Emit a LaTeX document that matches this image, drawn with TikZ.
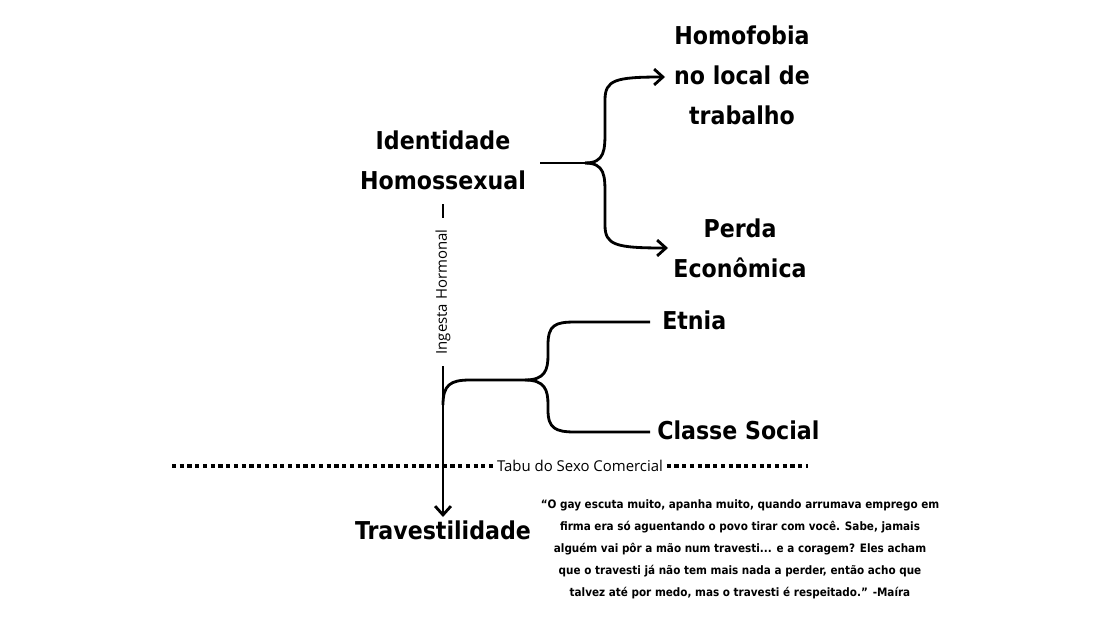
\documentclass[tikz,border=0pt]{standalone}
\usepackage{fontspec}
\setmainfont{DejaVu Sans Condensed}
\newfontfamily\thinfont{Open Sans}
\usetikzlibrary{arrows.meta}
\begin{document}
\begin{tikzpicture}[x=0.02cm, y=-0.02cm, line width=1.6pt,
  title/.style={font=\bfseries\fontsize{14}{22.7}\selectfont, align=center},
  small/.style={font=\thinfont\fontsize{8.5}{10}\selectfont, fill=white, inner sep=2pt},
  quote/.style={font=\bfseries\fontsize{6.6}{12.5}\selectfont, align=center},
  arr/.style={-{Straight Barb[length=5pt, width=9pt]}}]

  \useasboundingbox (0,0) rectangle (1114,626);

  % titles
  \node [title] (ident) at (443,160) {Identidade\\Homossexual};
  \node [title] (homo)  at (742,75)  {Homofobia\\no local de\\trabalho};
  \node [title] (perda) at (740,248) {Perda\\Econômica};
  \node [title, anchor=west] (etnia)  at (655,320) {Etnia};
  \node [title, anchor=west] (classe) at (650,430) {Classe Social};
  \node [title] (trav) at (443,530) {Travestilidade};

  % upper bracket
  \coordinate (fork) at (585,163);
  \draw (540,163) -- (fork);
  \draw [arr] (fork) .. controls (605,163) and (605,150) .. (605,130) -- (605,100)
        .. controls (605,80) and (615,77) .. (665,77);
  \draw [arr] (fork) .. controls (605,163) and (605,176) .. (605,195) -- (605,225)
        .. controls (605,245) and (615,248) .. (668,248);

  % hormonal line
  \draw (443,204) -- (443,218);
  \node [small, rotate=90] (ingesta) at (443,292) {Ingesta Hormonal};
  \draw [arr] (443,366) -- (443,517);

  % lower bracket
  \draw (443,405) .. controls (443,385) and (450,380) .. (470,380) -- (525,380)
        .. controls (545,380) and (548,370) .. (548,355) -- (548,345)
        .. controls (548,325) and (555,322) .. (575,322) -- (650,322);
  \draw (525,380) .. controls (545,380) and (548,390) .. (548,405) -- (548,410)
        .. controls (548,428) and (555,432) .. (575,432) -- (650,432);

  % dotted divider
  \draw [dotted, line width=2.4pt] (172,466) -- (808,466);
  \node [small] (tabu) at (580,466) {Tabu do Sexo Comercial};

  % quote
  \node [quote] (fala) at (740,549) {“O gay escuta muito, apanha muito, quando arrumava emprego em\\
    firma era só aguentando o povo tirar com você. Sabe, jamais\\
    alguém vai pôr a mão num travesti... e a coragem? Eles acham\\
    que o travesti já não tem mais nada a perder, então acho que\\
    talvez até por medo, mas o travesti é respeitado.” -Maíra};
\end{tikzpicture}
\end{document}
